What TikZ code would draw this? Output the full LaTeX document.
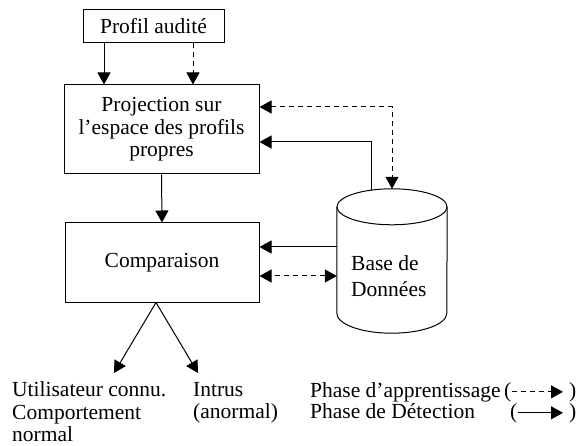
\documentclass[tikz,border=0pt]{standalone}
\usepackage{fontspec}
\setmainfont{Liberation Serif}
\usetikzlibrary{arrows.meta,calc}
\begin{document}
\begin{tikzpicture}[x=1pt,y=-1pt,
  every node/.style={font=\fontsize{21.5}{22.5}\selectfont, inner sep=0pt},
  box/.style={draw, line width=1pt},
  tip/.tip={Triangle[length=12pt,width=13pt]},
  conn/.style={line width=1pt, -tip},
  dconn/.style={conn, dash pattern=on 5pt off 4pt},
  ddconn/.style={line width=1pt, tip-tip, dash pattern=on 5pt off 4pt}]
\useasboundingbox (0,0) rectangle (578,446);

% boxes
\node[box, minimum width=141pt, minimum height=33pt] (profil) at (153.5,26.5) {Profil audité};
\node[box, minimum width=195pt, minimum height=89pt, align=center] (proj) at (161.5,129.5) {Projection sur\\l’espace des profils\\propres};
\node[box, minimum width=194pt, minimum height=79pt] (comp) at (162,262.5) {Comparaison};

% database
\node[minimum width=110pt, minimum height=144pt] (db) at (392,261) {};
\draw[box] ($(db.north)+(0,18)$) ellipse [x radius=55, y radius=18];
\draw[box] ($(db.west)+(0,-54)$) -- ($(db.south west)+(0,-20)$)
  arc[start angle=180, end angle=0, x radius=55, y radius=20] -- ($(db.east)+(0,-54)$);
\node[anchor=north west, align=left, font=\fontsize{21.5}{26}\selectfont] (dbt) at (351,255.5) {Base de\\Données};

% helper coordinates
\coordinate (xs) at (104,0);
\coordinate (xd) at (193,0);
\coordinate (xsol) at (371,0);
\coordinate (yd) at (0,107);
\coordinate (ys) at (0,142);
\coordinate (y1) at (0,247);
\coordinate (y2) at (0,276);
\coordinate (xapex) at (156,0);
\coordinate (o1) at (114,373);
\coordinate (o2) at (198,373);

% connectors
\draw[conn] (profil.south -| xs) -- (proj.north -| xs);
\draw[dconn] (profil.south -| xd) -- (proj.north -| xd);
\draw[conn] (proj.south) -- (comp.north);
\draw[ddconn] (proj.east |- yd) -- (db.north |- yd) -- (db.north);
\draw[conn] ($(db.north -| xsol)+(0,1.4)$) -- (xsol |- ys) -- (proj.east |- ys);
\draw[conn] (db.west |- y1) -- (comp.east |- y1);
\draw[ddconn] (db.west |- y2) -- (comp.east |- y2);
\coordinate (apex) at (comp.south -| xapex);
\draw[conn] (apex) -- (o1);
\draw[conn] (apex) -- (o2);

% outputs
\node[anchor=north west, align=left] (user) at (12,381.5) {Utilisateur connu.\\Comportement\\normal};
\node[anchor=north west, align=left] (intrus) at (193,382) {Intrus\\(anormal)};

% legend
\node[anchor=base west] (ph1) at (310,397) {Phase d’apprentissage};
\node[anchor=base west] (lp1) at (504,397) {(};
\node[anchor=base west] (rp1) at (569,397) {)};
\draw[dconn, shorten >=6pt] (lp1.east) -- (rp1.west);
\node[anchor=base west] (ph2) at (310,418) {Phase de Détection};
\node[anchor=base west] (lp2) at (510,418) {(};
\node[anchor=base west] (rp2) at (569,418) {)};
\draw[conn, shorten >=6pt] (lp2.east) -- (rp2.west);
\end{tikzpicture}
\end{document}
